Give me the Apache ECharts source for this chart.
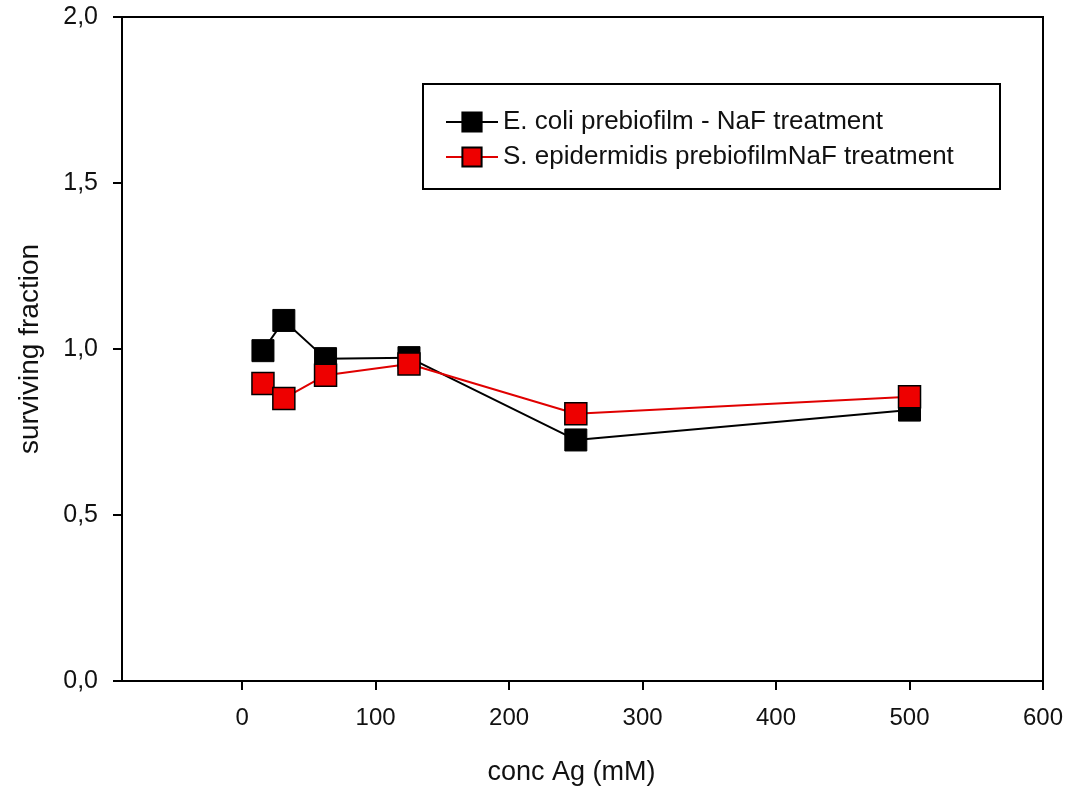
<!DOCTYPE html>
<html><head><meta charset="utf-8">
<script src="https://cdn.jsdelivr.net/npm/echarts@6/dist/echarts.min.js"></script>
<style>html,body{margin:0;padding:0;background:#fff}#c{width:1069px;height:796px}</style>
</head><body><div id="c"></div>
<script>
const concX = [15.6, 31.25, 62.5, 125, 250, 500];
const ecoliY = [0.995, 1.086, 0.971, 0.974, 0.726, 0.816];
const sepiY = [0.896, 0.851, 0.921, 0.955, 0.805, 0.856];
const xTicks = [0, 100, 200, 300, 400, 500, 600];
const yTicks = [0, 0.5, 1.0, 1.5, 2.0];
const seriesNames = ['E. coli prebiofilm - NaF treatment', 'S. epidermidis prebiofilmNaF treatment'];

const font = 'Liberation Sans, Arial, sans-serif';
const chart = echarts.init(document.getElementById('c'));
chart.setOption({
  animation: false,
  backgroundColor: '#fff',
  grid: {left: 122, right: 26, top: 17, bottom: 115, show: true, borderColor: '#000', borderWidth: 2, backgroundColor: 'transparent'},
  xAxis: {
    type: 'value', min: -90, max: 600,
    name: 'conc Ag (mM)', nameLocation: 'middle', nameGap: 78,
    nameTextStyle: {fontFamily: font, fontSize: 27, color: '#111', padding: [0, 22, 0, 0]},
    axisLine: {onZero: false, lineStyle: {color: '#000', width: 2}},
    axisTick: {show: true, length: 9, lineStyle: {color: '#000', width: 2}, customValues: xTicks},
    axisLabel: {fontFamily: font, fontSize: 24, color: '#111', margin: 25, customValues: xTicks},
    splitLine: {show: false}
  },
  yAxis: {
    type: 'value', min: 0, max: 2, interval: 0.5,
    name: 'surviving fraction', nameLocation: 'middle', nameGap: 78,
    nameTextStyle: {fontFamily: font, fontSize: 28, color: '#111'},
    axisLine: {show: true, onZero: false, lineStyle: {color: '#000', width: 2}},
    axisTick: {show: true, length: 9, lineStyle: {color: '#000', width: 2}, customValues: yTicks},
    axisLabel: {fontFamily: font, fontSize: 25, color: '#111', margin: 24, customValues: yTicks,
      formatter: v => v.toFixed(1).replace('.', ',')},
    splitLine: {show: false}
  },
  legend: {
    orient: 'vertical', left: 440, top: 104, itemGap: 9,
    itemWidth: 52, itemHeight: 24,
    textStyle: {fontFamily: font, fontSize: 26, color: '#111'},
    data: seriesNames
  },
  graphic: [{type: 'rect', shape: {x: 423, y: 84, width: 577, height: 105}, style: {fill: 'none', stroke: '#000', lineWidth: 2}, z: 100}],
  series: [
    {name: seriesNames[0], type: 'line', data: concX.map((x, i) => [x, ecoliY[i]]),
     symbol: 'rect', symbolSize: 22, lineStyle: {color: '#000', width: 2},
     itemStyle: {color: '#000', borderColor: '#000', borderWidth: 1}},
    {name: seriesNames[1], type: 'line', data: concX.map((x, i) => [x, sepiY[i]]),
     symbol: 'rect', symbolSize: 22, lineStyle: {color: '#e00000', width: 2},
     itemStyle: {color: '#ee0000', borderColor: '#000', borderWidth: 1.5}}
  ]
});
</script></body></html>
